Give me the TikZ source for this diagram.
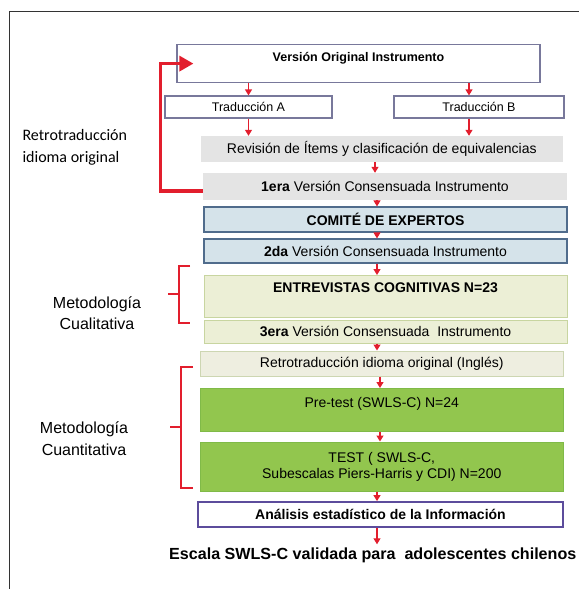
\documentclass[tikz,border=0pt]{standalone}
\usepackage{fontspec}
\setmainfont{Liberation Sans}
\newfontfamily\calibri{Carlito}
\usepackage{xcolor}
\usetikzlibrary{arrows.meta,calc}
\definecolor{rojo}{RGB}{226,30,45}
\definecolor{bordegris}{RGB}{120,120,155}
\definecolor{grisclaro}{RGB}{228,228,228}
\definecolor{azulclaro}{RGB}{213,227,234}
\definecolor{bordeazul}{RGB}{80,108,140}
\definecolor{oliva}{RGB}{236,239,214}
\definecolor{bordeoliva}{RGB}{200,213,160}
\definecolor{beige}{RGB}{238,238,224}
\definecolor{bordebeige}{RGB}{205,214,178}
\definecolor{verde}{RGB}{146,198,78}
\definecolor{bordeverde}{RGB}{128,186,72}
\definecolor{morado}{RGB}{92,76,156}

\begin{document}
\begin{tikzpicture}[x=1pt,y=-1pt,
  caja/.style={draw=bordegris,line width=1.2pt,fill=white,inner sep=0pt,
    font=\fontsize{12.5}{14}\selectfont},
  gris/.style={fill=grisclaro,inner sep=0pt,font=\fontsize{14}{16}\selectfont},
  azul/.style={draw=bordeazul,line width=1.2pt,fill=azulclaro,inner sep=0pt,
    font=\fontsize{14}{16}\selectfont},
  olivo/.style={draw=bordeoliva,line width=1pt,fill=oliva,inner sep=0pt,
    font=\fontsize{14}{16}\selectfont},
  verdecaja/.style={draw=bordeverde,line width=1pt,fill=verde,inner sep=0pt,
    font=\fontsize{14}{16}\selectfont},
  flecha/.style={rojo,line width=1.2pt,-{Triangle[width=7pt,length=6pt]}},
  retro/.style={rojo,line width=3.2pt,-{Triangle[width=15pt,length=14pt]}},
  llave/.style={rojo,line width=1.3pt},
  rotulo/.style={align=center,font=\fontsize{16}{21}\selectfont}]
\useasboundingbox (0,0) rectangle (579,589);
% marco
\draw[line width=1pt,black!80] (9,589) -- (9,11) -- (579,11);
\coordinate (eje) at (377,0);

% cajas
\node[caja,minimum width=363pt,text height=16.5pt,text depth=21.5pt,anchor=north] (vo) at (358.5,44) {\textbf{Versión Original Instrumento}};
\node[caja,minimum width=167pt,minimum height=22pt] (ta) at (248.5,107) {Traducción A};
\node[caja,minimum width=170pt,minimum height=22pt] (tb) at (479,107) {Traducción B};
\node[gris,minimum width=362.5pt,minimum height=26pt] (rev) at (381.75,149) {Revisión de Ítems y clasificación de equivalencias};
\node[gris,minimum width=364pt,minimum height=27pt] (c1) at (385,186.5) {\textbf{1era} Versión Consensuada Instrumento};
\node[azul,minimum width=363pt,minimum height=25pt] (com) at (385.5,219.5) {\textbf{COMITÉ DE EXPERTOS}};
\node[azul,minimum width=363pt,minimum height=24pt] (c2) at (385.5,251) {\textbf{2da} Versión Consensuada Instrumento};
\node[olivo,minimum width=363pt,text height=17pt,text depth=25pt,anchor=north] (ent) at (385.5,275) {\textbf{ENTREVISTAS COGNITIVAS N=23}};
\node[olivo,minimum width=363pt,minimum height=23pt] (c3) at (385.5,331.5) {\textbf{3era} Versión Consensuada\ \ Instrumento};
\node[olivo,draw=bordebeige,fill=beige,minimum width=362.5pt,minimum height=25pt] (rt) at (381.75,363.5) {Retrotraducción idioma original (Inglés)};
\node[verdecaja,minimum width=362.5pt,text height=18.7pt,text depth=24.3pt,anchor=north] (pre) at (381.75,388) {Pre-test (SWLS-C) N=24};
\node[verdecaja,minimum width=362.5pt,minimum height=49pt,align=center] (test) at (381.75,466.5) {TEST ( SWLS-C,\\Subescalas Piers-Harris y CDI) N=200};
\node[caja,draw=morado,line width=1.8pt,minimum width=365pt,minimum height=25pt,font=\fontsize{14}{16}\selectfont] (an) at (380.5,514.5) {\textbf{Análisis estadístico de la Información}};
\node[anchor=west,inner sep=3pt,font=\bfseries\fontsize{16.1}{18}\selectfont] (fin) at (166,555) {Escala SWLS-C validada para\ \ adolescentes chilenos};

% rotulos
\node[rotulo,align=left,anchor=west,font=\calibri\fontsize{16}{22}\selectfont] (lretro) at (19,147.5) {Retrotraducción\\idioma original};
\node[rotulo] (lcual) at (97,313.5) {Metodología\\Cualitativa};
\node[rotulo,font=\fontsize{16}{22}\selectfont] (lcuant) at (84,439) {Metodología\\Cuantitativa};

% flechas
\draw[flecha] (ta.north |- vo.south) -- (ta.north);
\draw[flecha] ([xshift=-10pt]tb.north |- vo.south) -- ([xshift=-10pt]tb.north);
\draw[flecha] (ta.south) -- (ta.south |- rev.north);
\draw[flecha] ([xshift=-10pt]tb.south) -- ([xshift=-10pt]tb.south |- rev.north);
\draw[flecha] ([xshift=-2pt]eje |- rev.south) -- ([xshift=-2pt]eje |- c1.north);
\draw[flecha] (eje |- c1.south) -- (eje |- com.north);
\draw[flecha] (eje |- com.south) -- (eje |- c2.north);
\draw[flecha] (eje |- c2.south) -- (eje |- ent.north);
\draw[flecha] (eje |- c3.south) -- (eje |- rt.north);
\draw[flecha] ([xshift=3pt]eje |- rt.south) -- ([xshift=3pt]eje |- pre.north);
\draw[flecha] ([xshift=3pt]eje |- pre.south) -- ([xshift=3pt]eje |- test.north);
\draw[flecha] (eje |- test.south) -- (eje |- an.north);
\draw[flecha] (eje |- an.south) -- (eje |- fin.north);
\draw[retro] ([yshift=-4.5pt]c1.west) -- ++(-42,0) |- ([xshift=17pt]vo.west);

% llaves
\draw[llave] (190,266) -- (179,266) -- (179,323) -- (190,323);
\draw[llave] (179,294) -- (168,294);
\draw[llave] (193,367) -- (181,367) -- (181,488) -- (193,488);
\draw[llave] (181,427) -- (170,427);
\end{tikzpicture}
\end{document}
